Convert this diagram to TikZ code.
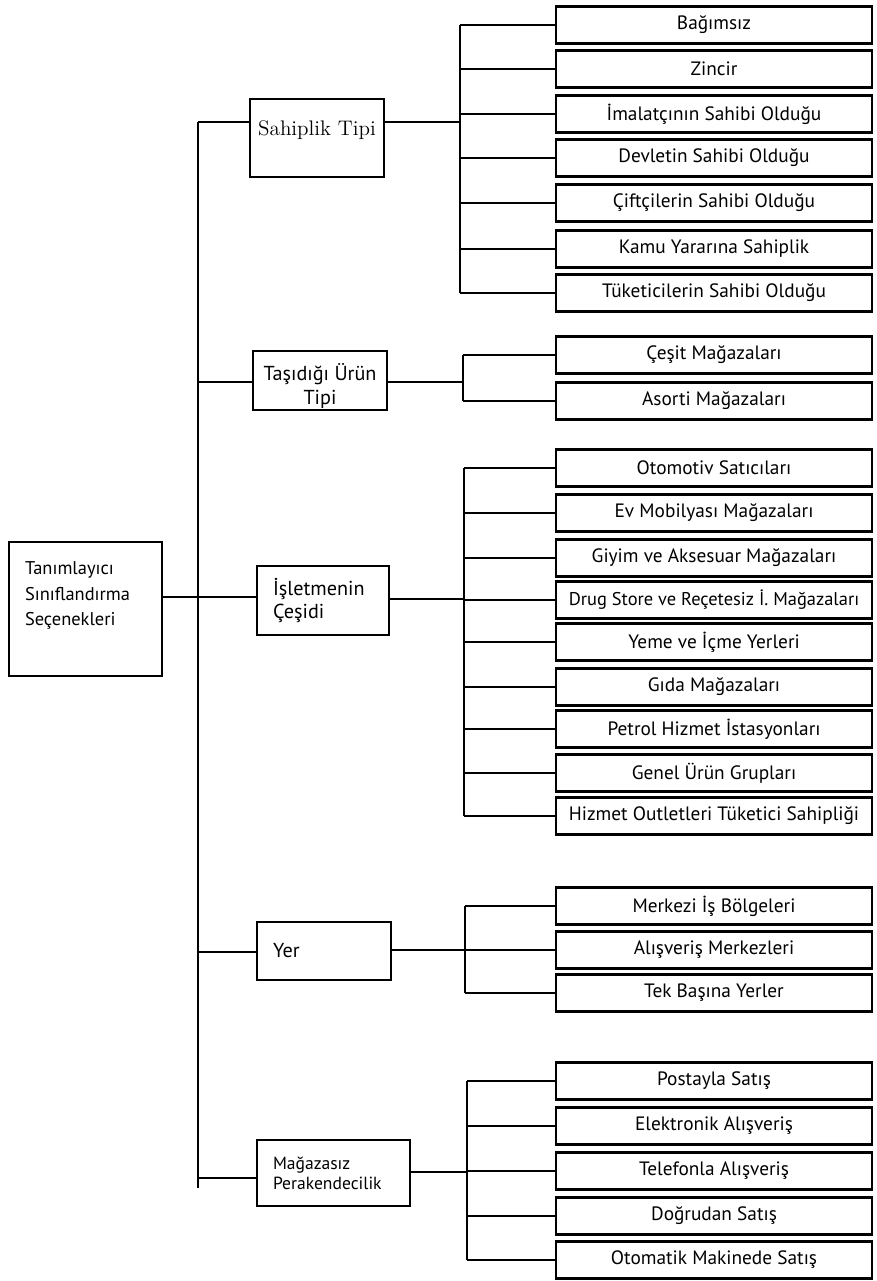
\documentclass[tikz,border=0pt]{standalone}
\usepackage{fontspec}
\setsansfont{PT Sans}

\tikzset{
  box/.style={draw, line width=1.6pt, inner sep=0pt, font=\sffamily\fontsize{11}{14}\selectfont},
  leaf/.style={box, minimum width=6.32cm, minimum height=0.74cm},
  link/.style={line width=1.6pt},
}

\begin{document}
\begin{tikzpicture}[x=0.02cm,y=-0.02cm]
\useasboundingbox (0,0) rectangle (876,1281);

% kok ve birinci duzey
\node[box, font=\sffamily\fontsize{10.5}{14.5}\selectfont, minimum width=3.06cm, minimum height=2.68cm, align=left, text width=2.42cm] (root) at (85.5,609) {Tanımlayıcı\\Sınıflandırma\\Seçenekleri\\[0.1cm]\mbox{}};
\node[box, font=\rmfamily\fontsize{12}{14}\selectfont, minimum width=2.68cm, minimum height=1.56cm, text depth=0.4cm] (sahip) at (317,138) {Sahiplik Tipi};
\node[box, font=\sffamily\fontsize{11.5}{13.5}\selectfont, minimum width=2.68cm, minimum height=1.18cm, align=center] (tasid) at (320,380.5) {\rule{0pt}{0.55cm}Taşıdığı Ürün\\Tipi};
\node[box, font=\sffamily\fontsize{11.5}{13.5}\selectfont, minimum width=2.64cm, minimum height=1.38cm, align=left, text width=2.0cm] (islet) at (323,600.5) {İşletmenin\\Çeşidi};
\node[box, font=\sffamily\fontsize{11.5}{13.5}\selectfont, minimum width=2.68cm, minimum height=1.16cm, align=left, text width=2.04cm] (yer) at (324,951) {Yer};
\node[box, font=\sffamily\fontsize{10}{11.5}\selectfont, minimum width=3.06cm, minimum height=1.32cm, align=left, text width=2.42cm] (magaz) at (333.5,1173) {Mağazasız\\Perakendecilik};

% sahiplik tipi
\node[leaf] (sahip1) at (714,25) {Bağımsız};
\node[leaf] (sahip2) at (714,69) {Zincir};
\node[leaf] (sahip3) at (714,114) {İmalatçının Sahibi Olduğu};
\node[leaf] (sahip4) at (714,158) {Devletin Sahibi Olduğu};
\node[leaf] (sahip5) at (714,203) {Çiftçilerin Sahibi Olduğu};
\node[leaf] (sahip6) at (714,249) {Kamu Yararına Sahiplik};
\node[leaf] (sahip7) at (714,293) {Tüketicilerin Sahibi Olduğu};

% urun tipi
\node[leaf] (tasid1) at (714,355) {Çeşit Mağazaları};
\node[leaf] (tasid2) at (714,401) {Asorti Mağazaları};

% isletme cesidi
\node[leaf] (islet1) at (714,468) {Otomotiv Satıcıları};
\node[leaf] (islet2) at (714,513) {Ev Mobilyası Mağazaları};
\node[leaf] (islet3) at (714,558) {Giyim ve Aksesuar Mağazaları};
\node[leaf, font=\sffamily\fontsize{10.5}{12}\selectfont] (islet4) at (714,600) {Drug Store ve Reçetesiz İ. Mağazaları};
\node[leaf] (islet5) at (714,642) {Yeme ve İçme Yerleri};
\node[leaf] (islet6) at (714,687) {Gıda Mağazaları};
\node[leaf] (islet7) at (714,729) {Petrol Hizmet İstasyonları};
\node[leaf] (islet8) at (714,773) {Genel Ürün Grupları};
\node[leaf] (islet9) at (714,816) {Hizmet Outletleri Tüketici Sahipliği};

% yer
\node[leaf] (yer1) at (714,906) {Merkezi İş Bölgeleri};
\node[leaf] (yer2) at (714,950) {Alışveriş Merkezleri};
\node[leaf] (yer3) at (714,993) {Tek Başına Yerler};

% magazasiz
\node[leaf] (magaz1) at (714,1081) {Postayla Satış};
\node[leaf] (magaz2) at (714,1126) {Elektronik Alışveriş};
\node[leaf] (magaz3) at (714,1171) {Telefonla Alışveriş};
\node[leaf] (magaz4) at (714,1216) {Doğrudan Satış};
\node[leaf] (magaz5) at (714,1260) {Otomatik Makinede Satış};

% ana gövde
\coordinate (jsahip) at (198,122);
\coordinate (jtasid) at (198,382);
\coordinate (jislet) at (198,597);
\coordinate (jyer) at (198,952);
\coordinate (jmagaz) at (198,1178);
\coordinate (jend) at (198,1188);
\draw[link] (jsahip) -- (jend);
\draw[link] (root.east |- jislet) -- (jislet);
\foreach \k in {sahip,tasid,islet,yer,magaz}
  \draw[link] (j\k) -- (j\k -| \k.west);

% alt govdeler
\coordinate (ssahip) at (460,122);
\coordinate (stasid) at (463,382);
\coordinate (sislet) at (464,599);
\coordinate (syer) at (465,950);
\coordinate (smagaz) at (467,1172);
\foreach \k/\n in {sahip/7,tasid/2,islet/9,yer/3,magaz/5}{
  \draw[link] (\k.east |- s\k) -- (s\k);
  \draw[link] (s\k |- \k1.west) -- (s\k |- \k\n.west);
  \foreach \i in {1,...,\n}
    \draw[link] (s\k |- \k\i.west) -- (\k\i.west);
}
\end{tikzpicture}
\end{document}
